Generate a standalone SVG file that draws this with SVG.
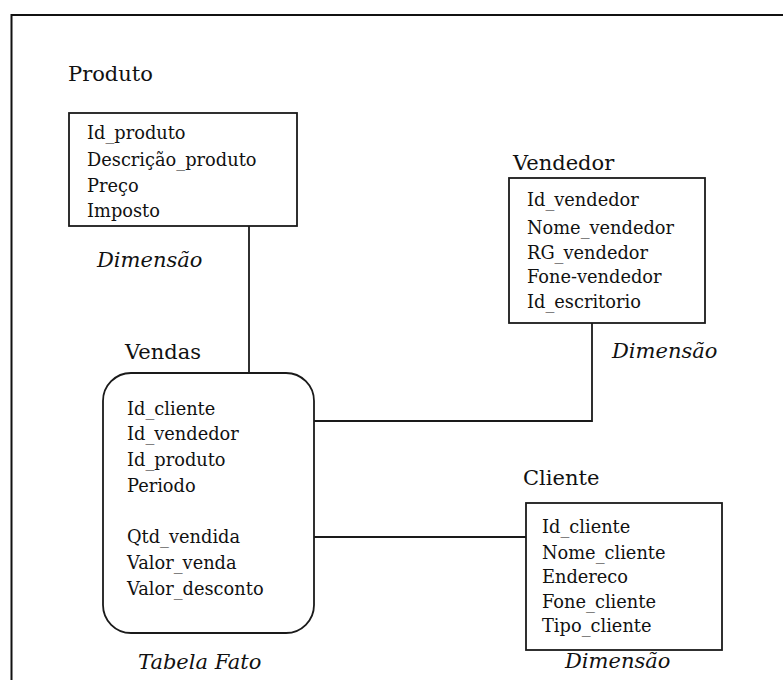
<svg xmlns="http://www.w3.org/2000/svg" width="783" height="680" viewBox="0 0 783 680">
<style>
.frame{fill:none;stroke:#111;stroke-width:2}
.box{fill:#fff;stroke:#1a1a1a;stroke-width:1.8}
.conn{fill:none;stroke:#1a1a1a;stroke-width:1.8}
.title{font-family:"DejaVu Serif","Liberation Serif",serif;font-size:21px;fill:#111}
.attr{font-family:"DejaVu Serif","Liberation Serif",serif;font-size:17.8px;fill:#111}
.lbl{font-family:"DejaVu Serif","Liberation Serif",serif;font-size:21px;font-style:italic;fill:#111}
</style>
<rect width="783" height="680" fill="#fff"/>
<path class="frame" d="M11.5,690 V15 H790"/>
<g id="connectors">
<line class="conn" x1="249" y1="226" x2="249" y2="373"/>
<polyline class="conn" points="592,323 592,421 314,421"/>
<line class="conn" x1="314" y1="537" x2="526" y2="537"/>
</g>
<g id="produto">
<text class="title" x="68" y="81">Produto</text>
<rect class="box" x="69" y="113" width="228" height="113"/>
<text class="attr" x="87" y="139">Id_produto</text>
<text class="attr" x="87" y="166">Descrição_produto</text>
<text class="attr" x="87" y="192">Preço</text>
<text class="attr" x="87" y="217">Imposto</text>
<text class="lbl" x="97" y="267">Dimensão</text>
</g>
<g id="vendedor">
<text class="title" x="513" y="170">Vendedor</text>
<rect class="box" x="509" y="178" width="196" height="145"/>
<text class="attr" x="527" y="206">Id_vendedor</text>
<text class="attr" x="527" y="234">Nome_vendedor</text>
<text class="attr" x="527" y="259">RG_vendedor</text>
<text class="attr" x="527" y="283">Fone-vendedor</text>
<text class="attr" x="527" y="308">Id_escritorio</text>
<text class="lbl" x="612" y="358">Dimensão</text>
</g>
<g id="vendas">
<text class="title" x="125" y="359">Vendas</text>
<rect class="box" x="103" y="373" width="211" height="260" rx="28" ry="28"/>
<text class="attr" x="127" y="415">Id_cliente</text>
<text class="attr" x="127" y="440">Id_vendedor</text>
<text class="attr" x="127" y="466">Id_produto</text>
<text class="attr" x="127" y="492">Periodo</text>
<text class="attr" x="127" y="543">Qtd_vendida</text>
<text class="attr" x="127" y="569">Valor_venda</text>
<text class="attr" x="127" y="595">Valor_desconto</text>
<text class="lbl" x="138" y="669">Tabela Fato</text>
</g>
<g id="cliente">
<text class="title" x="523" y="485">Cliente</text>
<rect class="box" x="526" y="503" width="196" height="147"/>
<text class="attr" x="542" y="533">Id_cliente</text>
<text class="attr" x="542" y="559">Nome_cliente</text>
<text class="attr" x="542" y="583">Endereco</text>
<text class="attr" x="542" y="608">Fone_cliente</text>
<text class="attr" x="542" y="632">Tipo_cliente</text>
<text class="lbl" x="565" y="668">Dimensão</text>
</g>
</svg>
